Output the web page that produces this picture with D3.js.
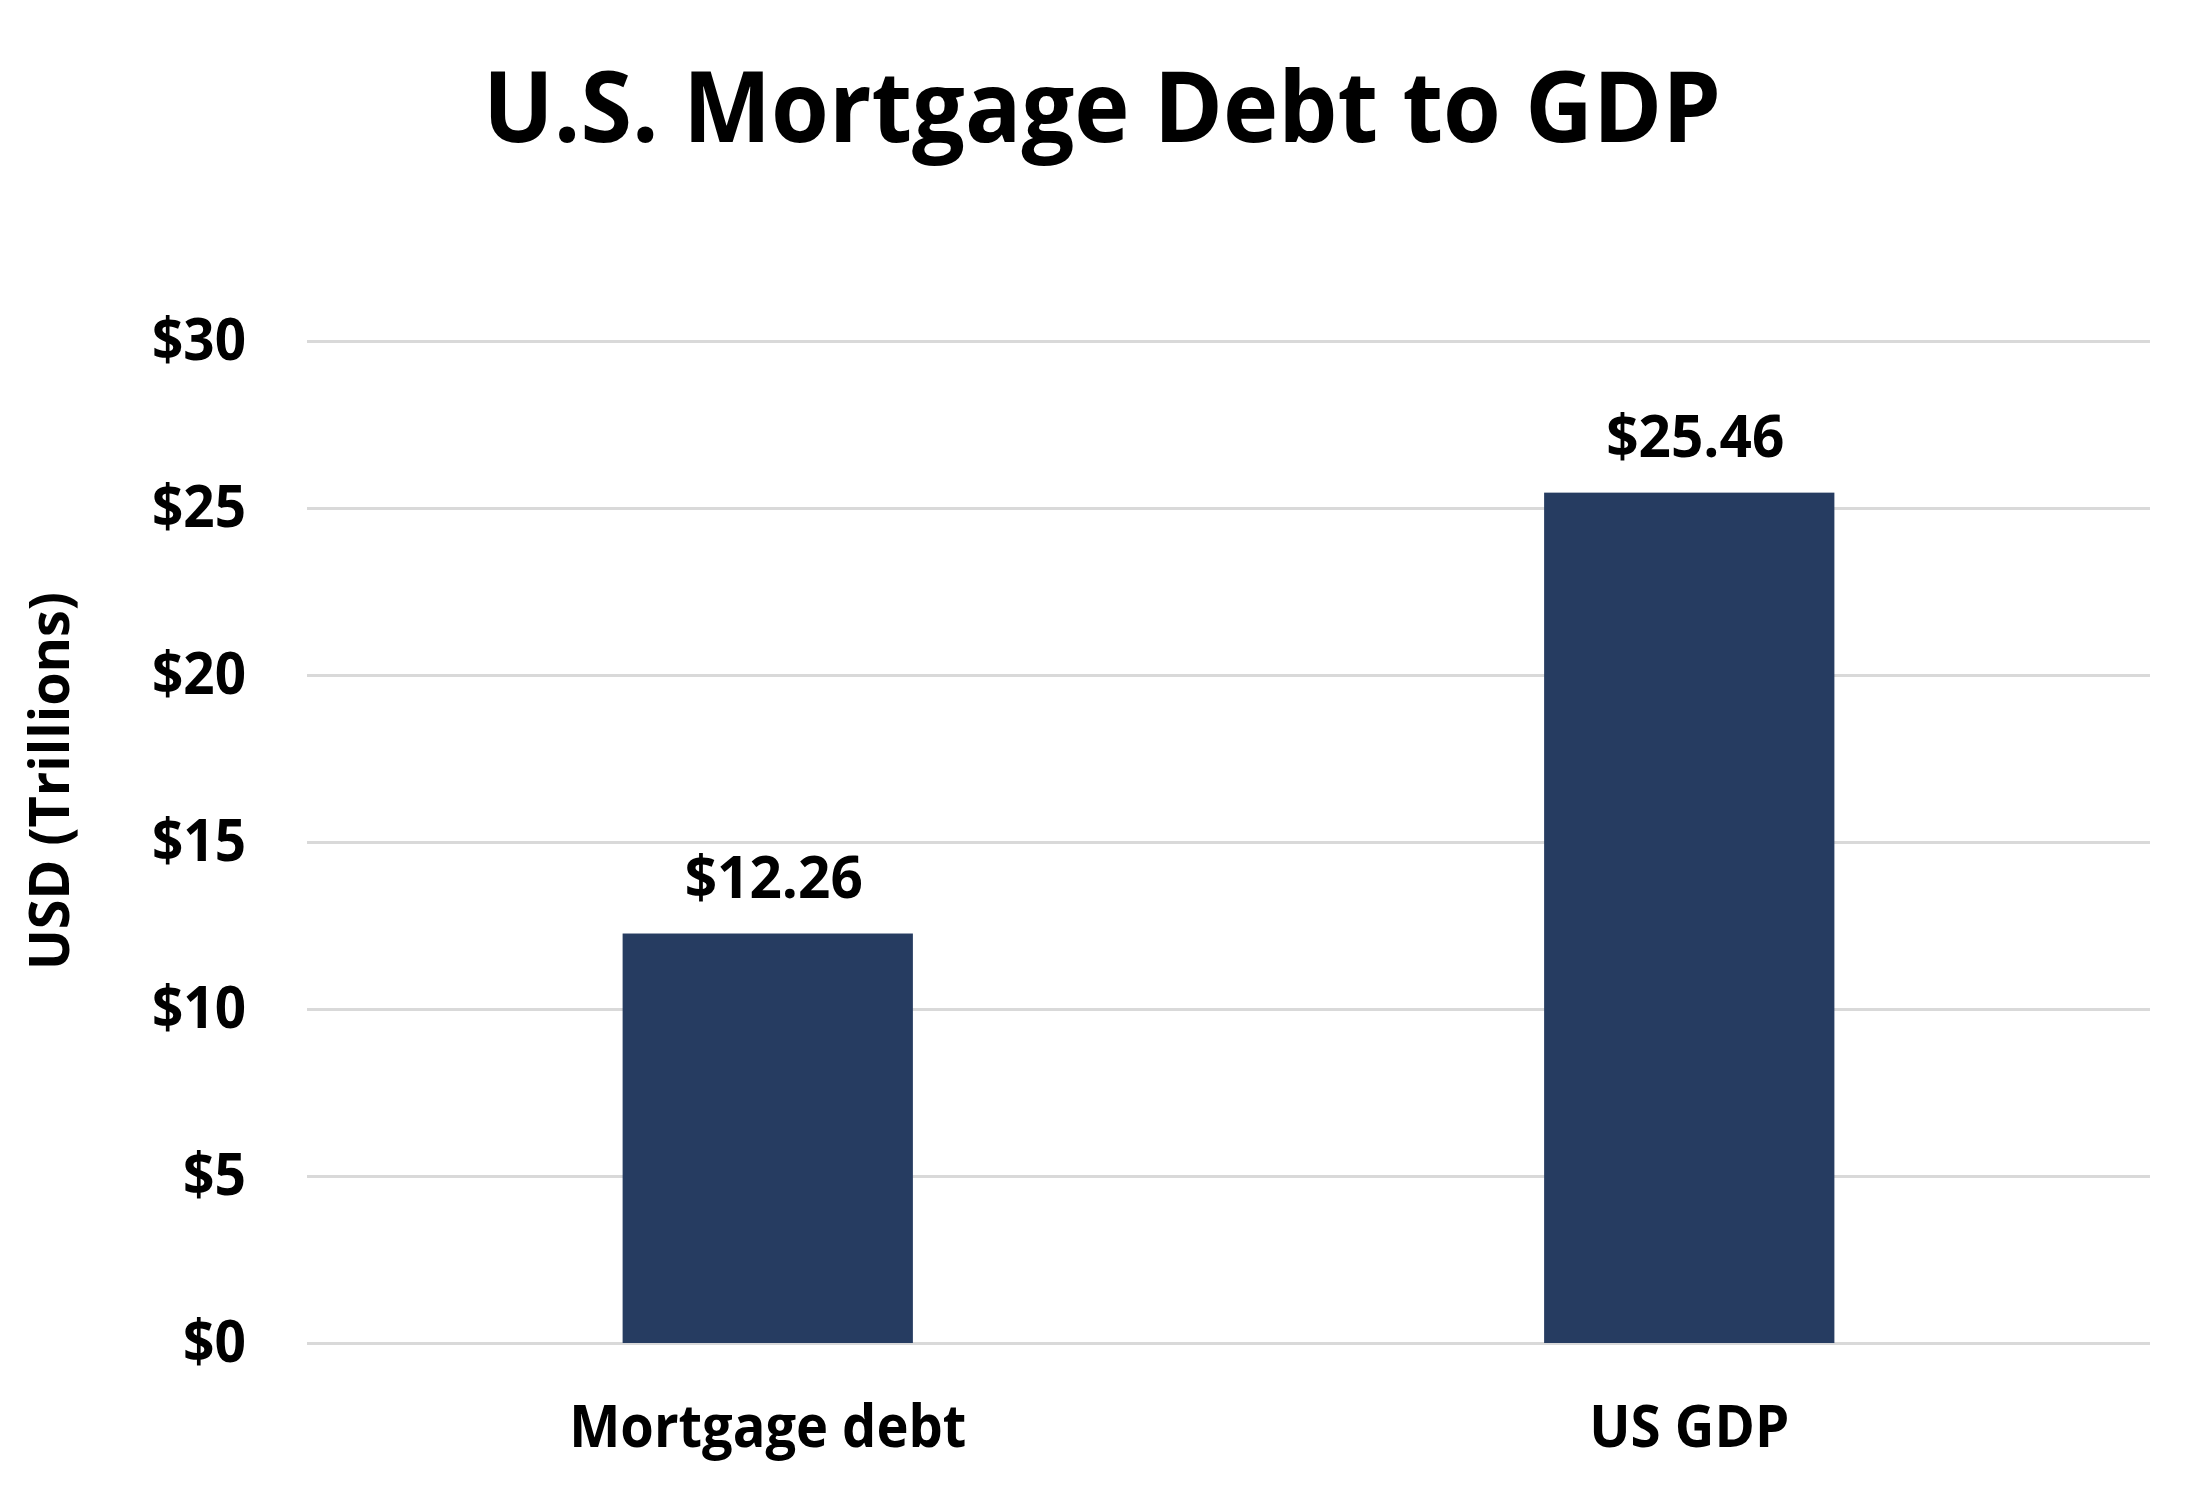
<!DOCTYPE html>
<html>
<head>
<meta charset="utf-8">
<script src="https://cdn.jsdelivr.net/npm/d3@7"></script>
<style>
  html, body { margin: 0; padding: 0; background: #ffffff; }
  svg { display: block; }
  text { font-family: "Open Sans", "Noto Sans", sans-serif; font-weight: 700; fill: #000; }
</style>
</head>
<body>
<svg id="chart" width="2200" height="1498"></svg>
<script>
const titleText = "U.S. Mortgage Debt to GDP";
const yAxisTitle = "USD (Trillions)";
const categories = ["Mortgage debt", "US GDP"];
const values = [12.26, 25.46];
const yTicks = [0, 5, 10, 15, 20, 25, 30];
const yDomain = [0, 30];

const W = 2200, H = 1498;
const plot = { left: 307, right: 2150, top: 341, bottom: 1343 };

const svg = d3.select("#chart");
svg.append("rect").attr("width", W).attr("height", H).attr("fill", "#fff");

const x = d3.scaleBand()
  .domain(categories)
  .range([plot.left, plot.right])
  .paddingInner(0.685)
  .paddingOuter(0.3425);

const y = d3.scaleLinear().domain(yDomain).range([plot.bottom, plot.top]);

// Gridlines and tick labels via axis
const yAxis = d3.axisLeft(y).tickValues(yTicks)
  .tickSize(-(plot.right - plot.left))
  .tickFormat(d => "$" + d);
const gy = svg.append("g").attr("transform", `translate(${plot.left},0)`).call(yAxis);
gy.select(".domain").remove();
gy.selectAll(".tick line").attr("stroke", "#d9d9d9").attr("stroke-width", 3);
gy.selectAll(".tick text")
  .attr("x", -61)
  .attr("dy", null)
  .attr("y", 18)
  .attr("text-anchor", "end")
  .attr("font-family", "\"Open Sans\", sans-serif")
  .attr("font-weight", 700)
  .attr("font-size", 59)
  .attr("fill", "#000")
  .each(function(d) {
    const target = String(d).length === 1 ? 63 : 94;
    d3.select(this).attr("textLength", target).attr("lengthAdjust", "spacingAndGlyphs");
  });

const rows = categories.map((c, i) => ({ c, v: values[i] }));

// Bars
svg.append("g").selectAll("rect")
  .data(rows)
  .join("rect")
  .attr("x", d => x(d.c))
  .attr("width", x.bandwidth())
  .attr("y", d => y(d.v))
  .attr("height", d => y(0) - y(d.v))
  .attr("fill", "#263c61");

// Value labels
svg.append("g").selectAll("text")
  .data(rows)
  .join("text")
  .attr("x", d => x(d.c) + x.bandwidth() / 2 + 6)
  .attr("y", d => y(d.v) - 36)
  .attr("text-anchor", "middle")
  .attr("font-size", 59)
  .text(d => "$" + d.v.toFixed(2))
  .attr("textLength", 178)
  .attr("lengthAdjust", "spacingAndGlyphs");

// Category labels
const catWidths = { "Mortgage debt": 397, "US GDP": 200 };
svg.append("g").selectAll("text")
  .data(categories)
  .join("text")
  .attr("x", d => x(d) + x.bandwidth() / 2)
  .attr("y", 1447)
  .attr("text-anchor", "middle")
  .attr("font-size", 59)
  .text(d => d)
  .attr("textLength", d => catWidths[d])
  .attr("lengthAdjust", "spacingAndGlyphs");

// Title
svg.append("text")
  .attr("x", 1102)
  .attr("y", 142)
  .attr("text-anchor", "middle")
  .attr("font-size", 98)
  .text(titleText)
  .attr("textLength", 1238)
  .attr("lengthAdjust", "spacingAndGlyphs");

// Y axis title
svg.append("text")
  .attr("transform", `translate(69,781) rotate(-90)`)
  .attr("text-anchor", "middle")
  .attr("font-size", 56)
  .text(yAxisTitle)
  .attr("textLength", 378)
  .attr("lengthAdjust", "spacingAndGlyphs");
</script>
</body>
</html>
